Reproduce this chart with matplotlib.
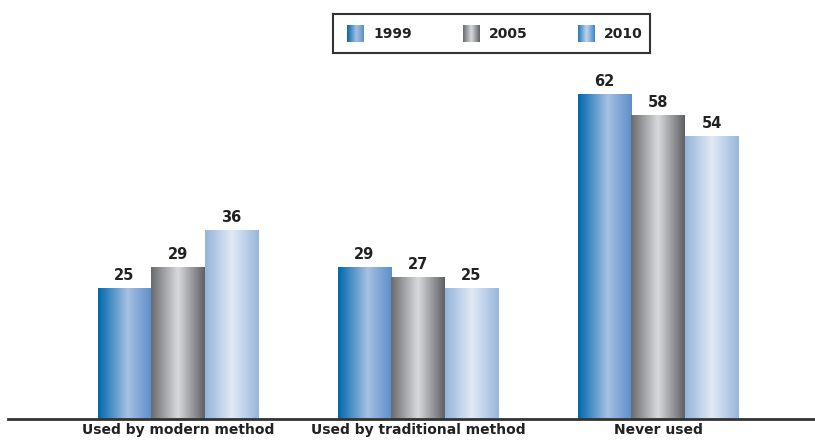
import numpy as np
import matplotlib.pyplot as plt
from matplotlib.colors import LinearSegmentedColormap

categories = ['Used by modern method', 'Used by traditional method', 'Never used']
years = ['1999', '2005', '2010']
v1999 = [25, 29, 62]
v2005 = [29, 27, 58]
v2010 = [36, 25, 54]
series = [v1999, v2005, v2010]

# horizontal gradients for each series
grads = [
    LinearSegmentedColormap.from_list('g1999', [(0, '#0068ab'), (0.55, '#a7c0e2'), (1, '#5d8fc9')]),
    LinearSegmentedColormap.from_list('g2005', [(0, '#6a6b6e'), (0.5, '#d9dadc'), (1, '#5f6064')]),
    LinearSegmentedColormap.from_list('g2010', [(0, '#94b4dc'), (0.5, '#e2eaf5'), (1, '#98b6dc')]),
]
# the 2010 legend swatch is drawn darker than its bars
leg_grads = grads[:2] + [
    LinearSegmentedColormap.from_list('l2010', [(0, '#1f78bb'), (0.5, '#c3d5ec'), (1, '#3f84c6')])]
ramp = np.linspace(0, 1, 128).reshape(1, -1)

fig = plt.figure(figsize=(8.15, 4.41), dpi=100)
ax = fig.add_axes([8 / 815, 22 / 441, 807 / 815, 366 / 441])

width = 0.223
x = np.arange(len(categories))
for i, vals in enumerate(series):
    for j, v in enumerate(vals):
        left = x[j] + (i - 1.5) * width
        ax.imshow(ramp, cmap=grads[i], extent=[left, left + width, 0, v],
                  aspect='auto', interpolation='bicubic', zorder=2)
        ax.annotate(str(v), (left + width / 2, v), xytext=(0, 4), textcoords='offset points',
                    ha='center', va='bottom', fontsize=10.5, fontweight='bold', color='#222222')

ax.set_xlim(-0.708, 2.654)
ax.set_ylim(0, 70)
ax.set_xticks(x)
ax.set_xticklabels(categories, fontsize=10, fontweight='bold', color='#222222')
ax.tick_params(axis='x', length=0, pad=3)
ax.set_yticks([])
for s in ['top', 'left', 'right']:
    ax.spines[s].set_visible(False)
ax.spines['bottom'].set_linewidth(2)
ax.spines['bottom'].set_color('#333333')

# legend box
lg = fig.add_axes([333 / 815, (441 - 53) / 441, 317 / 815, 39 / 441])
lg.set_xticks([])
lg.set_yticks([])
for s in lg.spines.values():
    s.set_linewidth(1.5)
    s.set_color('#333333')
for i, (yr, xs) in enumerate(zip(years, [14, 130, 245])):
    lg.imshow(ramp, cmap=leg_grads[i], extent=[xs, xs + 17, 11, 28], aspect='auto',
              interpolation='bicubic')
    lg.text(xs + 26, 19.5, yr, ha='left', va='center', fontsize=10,
            fontweight='bold', color='#222222')
lg.set_xlim(0, 317)
lg.set_ylim(0, 39)

fig.savefig('out.png', dpi=100)
